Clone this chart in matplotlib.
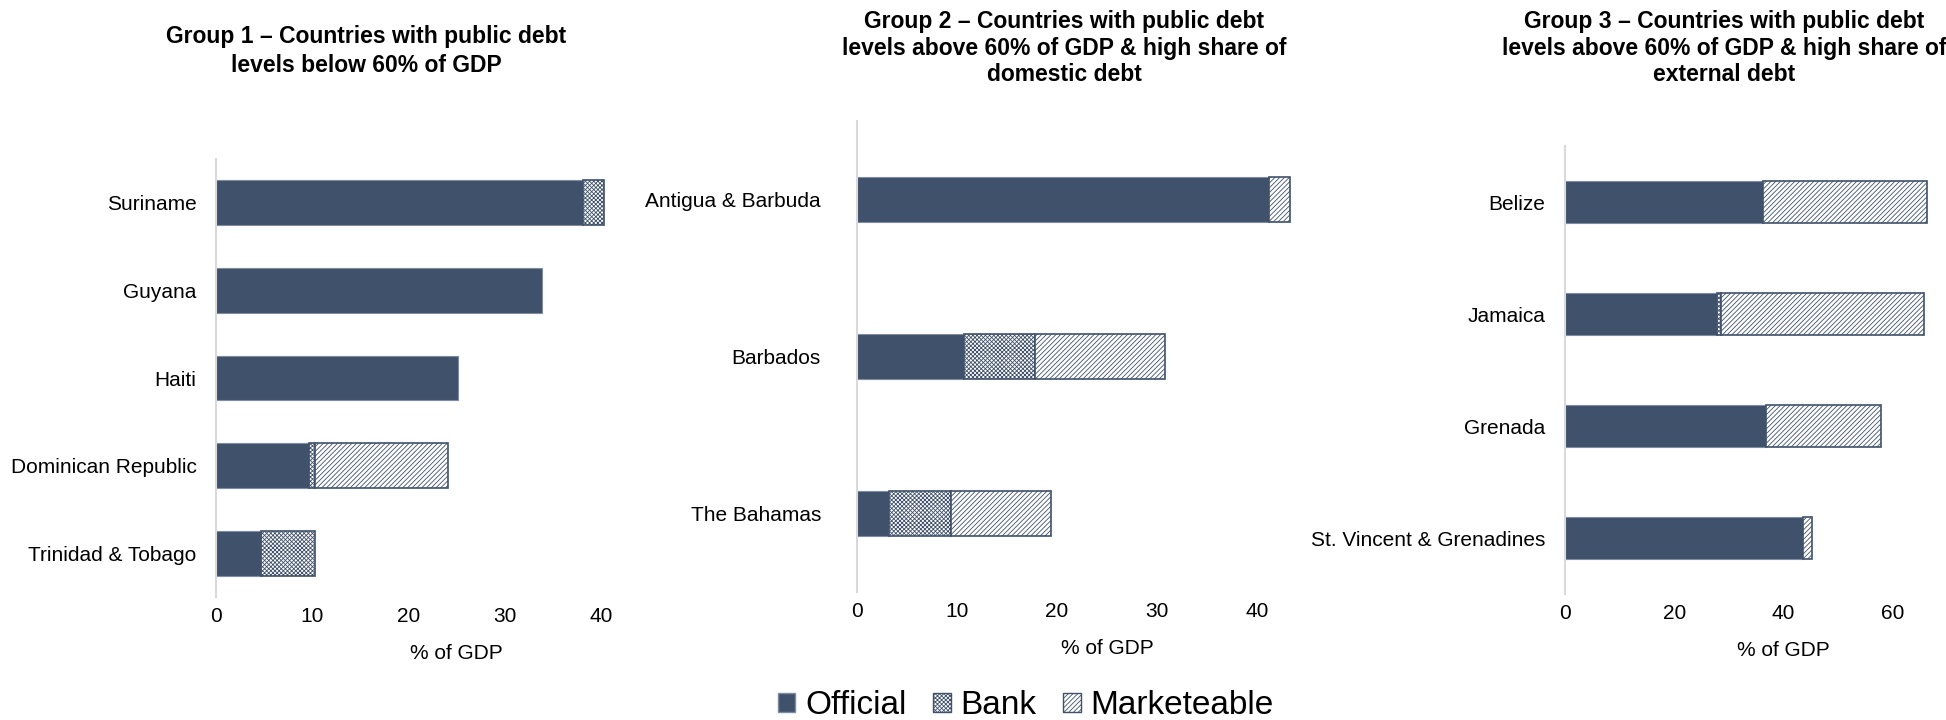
import numpy as np
import matplotlib
matplotlib.use("Agg")
import matplotlib.pyplot as plt
from matplotlib.patches import Patch

plt.rcParams['font.family'] = ['Liberation Sans', 'DejaVu Sans']
plt.rcParams['hatch.linewidth'] = 0.6

# data (% of GDP)
g1_countries = ['Suriname', 'Guyana', 'Haiti', 'Dominican Republic', 'Trinidad & Tobago']
g1_official = [38.1, 33.9, 25.2, 9.7, 4.7]
g1_bank = [2.2, 0, 0, 0.6, 5.6]
g1_market = [0, 0, 0, 13.8, 0]

g2_countries = ['Antigua & Barbuda', 'Barbados', 'The Bahamas']
g2_official = [41.2, 10.7, 3.2]
g2_bank = [0, 7.1, 6.2]
g2_market = [2.1, 13.0, 10.0]

g3_countries = ['Belize', 'Jamaica', 'Grenada', 'St. Vincent & Grenadines']
g3_official = [36.2, 27.8, 36.8, 43.5]
g3_bank = [0, 0.7, 0, 0]
g3_market = [30.1, 37.3, 21.1, 1.8]

titles = ['Group 1 \u2013 Countries with public debt\nlevels below 60% of GDP',
          'Group 2 \u2013 Countries with public debt\nlevels above 60% of GDP & high share of\ndomestic debt',
          'Group 3 \u2013 Countries with public debt\nlevels above 60% of GDP & high share of\nexternal debt']

navy = '#3f516b'
bank_hatch = 'xxxxxxxx'
mkt_hatch = '///////'
W, H = 1946, 720

fig = plt.figure(figsize=(W / 100, H / 100), dpi=100)

# panel boxes in pixels: left, top, right, bottom
boxes = [(216, 159, 697, 597), (857, 121, 1357, 592), (1565, 146, 2002, 594)]
xmax = [50, 50, 80]
xticks = [[0, 10, 20, 30, 40], [0, 10, 20, 30, 40], [0, 20, 40, 60]]
bar_h = [0.51, 0.29, 0.37]
ypad = [14, 26, 14]
title_x = [366, 1064, 1724]
title_y = [51, 48, 48]
title_ls = [1.3, 1.2, 1.2]

groups = [(g1_countries, g1_official, g1_bank, g1_market),
          (g2_countries, g2_official, g2_bank, g2_market),
          (g3_countries, g3_official, g3_bank, g3_market)]


def nz(v):
    v = np.array(v, dtype=float)
    return np.where(v > 0, v, np.nan)


for i, (names, off, bank, mkt) in enumerate(groups):
    l, t, r, b = boxes[i]
    ax = fig.add_axes([l / W, 1 - b / H, (r - l) / W, (b - t) / H])
    ax.patch.set_alpha(0)
    y = np.arange(len(names))
    off = np.array(off, dtype=float)
    bank = np.array(bank, dtype=float)
    ax.barh(y, off, height=bar_h[i], color=navy, edgecolor='#7f8ba0', linewidth=0.8)
    ax.barh(y, nz(bank), left=off, height=bar_h[i], color='white',
            edgecolor=navy, hatch=bank_hatch, linewidth=1.2)
    ax.barh(y, nz(mkt), left=off + bank, height=bar_h[i], color='white',
            edgecolor=navy, hatch=mkt_hatch, linewidth=1.2)
    ax.set_ylim(len(names) - 0.5, -0.5)
    ax.set_xlim(0, xmax[i])
    ax.set_xticks(xticks[i])
    ax.set_yticks(y)
    ax.set_yticklabels(names)
    for s in ['top', 'right', 'bottom']:
        ax.spines[s].set_visible(False)
    ax.spines['left'].set_color('#d9d9d9')
    ax.spines['left'].set_linewidth(1.5)
    ax.tick_params(axis='x', length=0, labelsize=15, pad=7)
    ax.tick_params(axis='y', length=0, labelsize=15, pad=ypad[i])
    ax.set_xlabel('% of GDP', fontsize=15, labelpad=13)
    fig.text(title_x[i] / W, 1 - title_y[i] / H, titles[i], ha='center', va='center',
             fontsize=16.5, fontweight='bold', linespacing=title_ls[i])

handles = [Patch(facecolor=navy, edgecolor='#7f8ba0', label='Official'),
           Patch(facecolor='white', edgecolor=navy, hatch=bank_hatch, label='Bank'),
           Patch(facecolor='white', edgecolor=navy, hatch=mkt_hatch, label='Marketeable')]
fig.legend(handles=handles, loc='center', bbox_to_anchor=(1026 / W, 1 - 706 / H),
           ncol=3, frameon=False, fontsize=24, handlelength=0.52, handleheight=0.52,
           handletextpad=0.3, columnspacing=0.8)

fig.savefig('out.png', dpi=100)
